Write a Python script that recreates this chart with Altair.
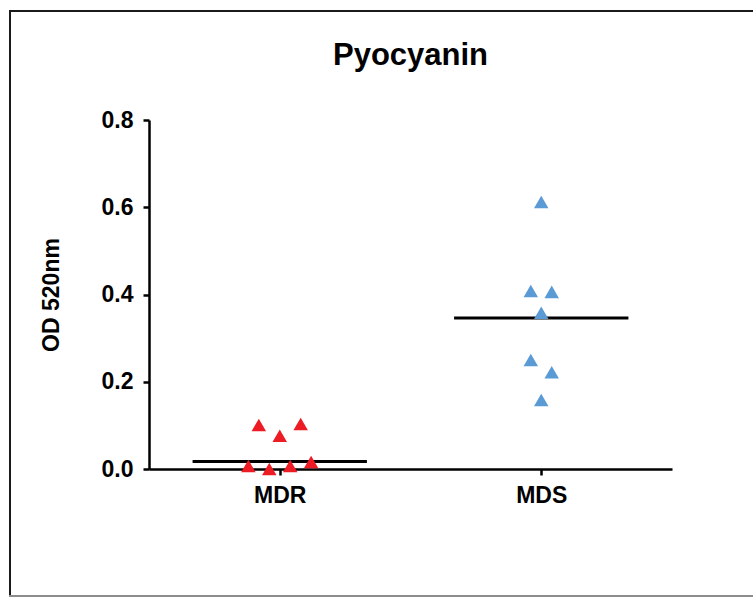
import altair as alt
import pandas as pd

# ---- data ----
groups = ["MDR", "MDS"]
mdr_values = [0.101, 0.103, 0.076, 0.007, 0.000, 0.007, 0.016]
mdr_jitter = [-0.08, 0.08, 0.00, -0.12, -0.04, 0.04, 0.12]
mds_values = [0.612, 0.408, 0.406, 0.358, 0.250, 0.222, 0.158]
mds_jitter = [0.00, -0.04, 0.04, 0.00, -0.04, 0.04, 0.00]
center_lines = [0.017, 0.346]
colors = ["#ED1C24", "#5B9BD5"]
y_ticks = [0.0, 0.2, 0.4, 0.6, 0.8]
chart_title = "Pyocyanin"
y_title = "OD 520nm"

FONT = "Liberation Sans"
W, H = 523, 349
HALF = 1 / 3  # half width of the centre line, in group units

rows = []
for gi, (vals, jit) in enumerate([(mdr_values, mdr_jitter), (mds_values, mds_jitter)]):
    for v, j in zip(vals, jit):
        rows.append({"group": groups[gi], "pos": gi + 1 + j, "value": v})
points = pd.DataFrame(rows)

lines = pd.DataFrame({
    "group": groups,
    "lo": [i + 1 - HALF for i in range(len(groups))],
    "hi": [i + 1 + HALF for i in range(len(groups))],
    "value": center_lines,
})

label_expr = "[" + ",".join(f"'{g}'" for g in groups) + "][datum.value - 1]"

x_scale = alt.Scale(domain=[0.5, 2.5], nice=False, zero=False)
y_scale = alt.Scale(domain=[0, 0.8], nice=False)

x_axis = alt.Axis(values=[1, 2], labelExpr=label_expr, title=None, grid=False, labelPadding=9)
y_axis = alt.Axis(values=y_ticks, format=".1f", title=y_title, grid=False,
                  labelPadding=10, titlePadding=38)

median = alt.Chart(lines).mark_rule(color="black", strokeWidth=3).encode(
    x=alt.X("lo:Q", scale=x_scale, axis=x_axis),
    x2="hi:Q",
    y=alt.Y("value:Q", scale=y_scale, axis=y_axis),
)

pts = alt.Chart(points).mark_point(shape="triangle-up", filled=True, opacity=1, size=210).encode(
    x=alt.X("pos:Q", scale=x_scale),
    y=alt.Y("value:Q", scale=y_scale),
    color=alt.Color("group:N", scale=alt.Scale(domain=groups, range=colors), legend=None),
)

frame_df = pd.DataFrame({"k": [0]})
title_mark = alt.Chart(frame_df).mark_text(
    text=chart_title, font=FONT, fontSize=31, fontWeight="bold", color="black",
    align="center", baseline="alphabetic",
).encode(x=alt.value(W / 2), y=alt.value(-55))

# figure frame
left_edge = alt.Chart(frame_df).mark_rule(color="#1a1a1a", strokeWidth=2).encode(
    x=alt.value(-139), y=alt.value(-110), y2=alt.value(477))
top_edge = alt.Chart(frame_df).mark_rule(color="#1a1a1a", strokeWidth=2).encode(
    x=alt.value(-140), x2=alt.value(604), y=alt.value(-109))
bottom_edge = alt.Chart(frame_df).mark_rule(color="#8c8c8c", strokeWidth=2).encode(
    x=alt.value(-140), x2=alt.value(604), y=alt.value(476))

chart = alt.layer(median, pts, title_mark, left_edge, top_edge, bottom_edge).properties(
    width=W, height=H,
    padding={"left": 149, "top": 120, "right": 81, "bottom": 128},
    autosize="none",
    background="white",
).configure_view(stroke=None).configure_axis(
    domainColor="black", domainWidth=2.5, tickColor="black", tickWidth=2.5, tickSize=6,
    labelFont=FONT, labelFontWeight="bold", labelFontSize=23, labelColor="black",
    titleFont=FONT, titleFontWeight="bold", titleFontSize=23, titleColor="black",
)

chart.save("out.html", embed_options={"renderer": "svg", "actions": False})
